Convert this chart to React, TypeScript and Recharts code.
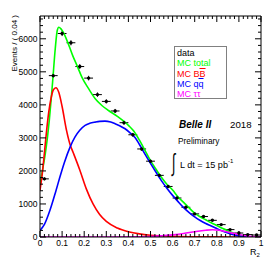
import {
  ComposedChart,
  ErrorBar,
  Legend,
  Line,
  Scatter,
  XAxis,
  YAxis,
} from 'recharts';

// data points, bins of width 0.04
const DATA_R = [
  0.02, 0.06, 0.1, 0.14, 0.18, 0.22, 0.26, 0.3, 0.34, 0.38, 0.42, 0.46, 0.5, 0.54, 0.58, 0.62,
  0.66, 0.7, 0.74, 0.78, 0.82, 0.86, 0.9, 0.94, 0.98,
];
const DATA_EVENTS = [
  1760, 4885, 6160, 5880, 5160, 4810, 4310, 4105, 3815, 3460, 3095, 2665, 2295, 1866, 1530, 1180,
  900, 700, 620, 505, 375, 224, 121, 72, 60,
];
const DATA_ERR = [
  42, 70, 78, 77, 72, 69, 66, 64, 62, 59, 56, 52, 48, 43, 39, 34, 30, 26, 25, 22, 19, 15, 11, 8, 8,
];
const BIN_HALF = 0.02;

// MC total
const TOTAL_R = [
  0, 0.012, 0.024, 0.042, 0.057, 0.069, 0.078, 0.085, 0.095, 0.105, 0.125, 0.148, 0.17, 0.19, 0.22,
  0.25, 0.28, 0.31, 0.35, 0.4, 0.425, 0.45, 0.475, 0.5, 0.525, 0.55, 0.575, 0.6, 0.625, 0.65, 0.675,
  0.7, 0.725, 0.75, 0.775, 0.8, 0.825, 0.85, 0.875, 0.9, 0.925, 0.95, 1,
];
const TOTAL_V = [
  1610, 2050, 2520, 3530, 4690, 5700, 6250, 6350, 6300, 6200, 5900, 5490, 5150, 4830, 4490, 4185,
  3980, 3830, 3650, 3380, 3200, 2930, 2620, 2310, 2050, 1800, 1590, 1420, 1210, 1050, 880, 720, 610,
  520, 430, 350, 265, 190, 121, 60, 18, 4, 0,
];

// MC BB
const BB_R = [
  0, 0.01, 0.02, 0.03, 0.04, 0.05, 0.06, 0.072, 0.085, 0.1, 0.12, 0.136, 0.15, 0.18, 0.21, 0.24, 0.27,
  0.3, 0.35, 0.4, 0.45, 0.5, 0.6, 0.7, 0.8, 0.9, 1,
];
const BB_V = [
  1410, 1900, 2550, 3226, 3800, 4200, 4450, 4520, 4380, 3950, 3226, 2800, 2560, 2030, 1450, 1000, 680,
  470, 270, 160, 95, 55, 20, 8, 3, 1, 0,
];

// MC qq
const QQ_R = [
  0, 0.02, 0.045, 0.07, 0.09, 0.11, 0.136, 0.158, 0.18, 0.204, 0.225, 0.25, 0.27, 0.294, 0.32, 0.34,
  0.36, 0.385, 0.405, 0.43, 0.45, 0.475, 0.5, 0.525, 0.55, 0.575, 0.6, 0.625, 0.65, 0.675, 0.7, 0.725,
  0.75, 0.775, 0.8, 0.825, 0.85, 0.875, 0.9, 0.925, 0.95, 1,
];
const QQ_V = [
  200, 380, 807, 1350, 1815, 2250, 2722, 3024, 3230, 3378, 3440, 3478, 3500, 3508, 3480, 3428, 3370,
  3277, 3170, 3010, 2800, 2510, 2230, 1960, 1700, 1470, 1260, 1070, 890, 740, 610, 500, 410, 335, 255,
  180, 118, 68, 30, 10, 2, 0,
];

// MC tautau
const TT_R = [0, 0.3, 0.45, 0.5, 0.55, 0.6, 0.65, 0.7, 0.75, 0.78, 0.81, 0.85, 0.9, 0.95, 1];
const TT_V = [0, 0, 5, 15, 35, 65, 105, 160, 205, 220, 205, 150, 75, 20, 0];

const X_MAJOR = [0, 0.1, 0.2, 0.3, 0.4, 0.5, 0.6, 0.7, 0.8, 0.9, 1];
const Y_MAJOR = [0, 1000, 2000, 3000, 4000, 5000, 6000];
const X_MINOR_STEP = 0.02;
const Y_MINOR_STEP = 200;
const Y_MAX = 6690;

const FONT = '"Liberation Sans", Arial, sans-serif';
const W = 276;
const H = 276;

const toPoints = (xs: number[], ys: number[]) => xs.map((r, i) => ({ r, v: ys[i] }));

const dataPoints = DATA_R.map((r, i) => ({
  r,
  v: DATA_EVENTS[i],
  ex: BIN_HALF,
  ey: DATA_ERR[i],
}));

const range = (max: number, step: number) =>
  Array.from({ length: Math.round(max / step) + 1 }, (_, i) => +(i * step).toFixed(4));

const xTicks = range(1, X_MINOR_STEP);
const yTicks = range(6600, Y_MINOR_STEP);

const isMajor = (v: number, majors: number[]) => majors.some((m) => Math.abs(m - v) < 1e-6);

const MAJOR_LEN = 6;
const MINOR_LEN = 3;

// ticks point into the frame, ROOT style
const BottomTick = (props: any) => {
  const { x, y, payload } = props;
  const major = isMajor(payload.value, X_MAJOR);
  return (
    <g>
      <line x1={x} x2={x} y1={y} y2={y - (major ? MAJOR_LEN : MINOR_LEN)} stroke="#000" />
      {major && (
        <text x={x} y={y + 8.5} textAnchor="middle" fontSize={8.5} fontFamily={FONT} fill="#000">
          {String(payload.value)}
        </text>
      )}
    </g>
  );
};

const TopTick = (props: any) => {
  const { x, y, payload } = props;
  const major = isMajor(payload.value, X_MAJOR);
  return <line x1={x} x2={x} y1={y} y2={y + (major ? MAJOR_LEN : MINOR_LEN)} stroke="#000" />;
};

const LeftTick = (props: any) => {
  const { x, y, payload } = props;
  const major = isMajor(payload.value, Y_MAJOR);
  return (
    <g>
      <line x1={x} x2={x + (major ? MAJOR_LEN : MINOR_LEN)} y1={y} y2={y} stroke="#000" />
      {major && (
        <text
          x={x - 2.5}
          y={y + 3}
          textAnchor="end"
          fontSize={8.5}
          fontFamily={FONT}
          fill="#000"
        >
          {String(payload.value)}
        </text>
      )}
    </g>
  );
};

const RightTick = (props: any) => {
  const { x, y, payload } = props;
  const major = isMajor(payload.value, Y_MAJOR);
  return <line x1={x} x2={x - (major ? MAJOR_LEN : MINOR_LEN)} y1={y} y2={y} stroke="#000" />;
};

const LEGEND_ITEMS = [
  { label: 'data', color: '#000000', bar: '' },
  { label: 'MC total', color: '#00ff00', bar: '' },
  { label: 'MC B', color: '#ff0000', bar: 'B' },
  { label: 'MC q', color: '#0000ff', bar: 'q' },
  { label: 'MC ττ', color: '#ff00ff', bar: '' },
];

const LegendBox = () => (
  <div
    style={{
      border: '1px solid #808080',
      background: '#fff',
      width: 53,
      height: 53,
      padding: '1px 0 0 2px',
      boxSizing: 'border-box',
      fontFamily: FONT,
      fontSize: 9,
      lineHeight: '10.3px',
    }}
  >
    {LEGEND_ITEMS.map((it) => (
      <div key={it.label} style={{ color: it.color, whiteSpace: 'nowrap' }}>
        {it.label}
        {it.bar && <span style={{ textDecoration: 'overline' }}>{it.bar}</span>}
      </div>
    ))}
  </div>
);

const Dot = (props: any) => <circle cx={props.cx} cy={props.cy} r={1.7} fill="#000" />;

export default function App() {
  return (
    <div
      style={{
        position: 'absolute',
        left: 0,
        top: 0,
        width: W,
        height: H,
        background: '#fff',
      }}
    >
      <ComposedChart
        width={W}
        height={H}
        margin={{ top: 15, right: 14, bottom: 38, left: 39 }}
      >
        <XAxis
          xAxisId="x"
          dataKey="r"
          type="number"
          domain={[0, 1]}
          allowDataOverflow
          ticks={xTicks}
          interval={0}
          height={1}
          tickSize={0}
          tickMargin={0}
          tickLine={false}
          axisLine={{ stroke: '#000' }}
          tick={BottomTick}
        />
        <XAxis
          xAxisId="xt"
          orientation="top"
          dataKey="r"
          type="number"
          domain={[0, 1]}
          allowDataOverflow
          ticks={xTicks}
          interval={0}
          height={1}
          tickSize={0}
          tickMargin={0}
          tickLine={false}
          axisLine={{ stroke: '#000' }}
          tick={TopTick}
        />
        <YAxis
          yAxisId="y"
          type="number"
          domain={[0, Y_MAX]}
          allowDataOverflow
          ticks={yTicks}
          interval={0}
          width={1}
          tickSize={0}
          tickMargin={0}
          tickLine={false}
          axisLine={{ stroke: '#000' }}
          tick={LeftTick}
        />
        <YAxis
          yAxisId="yr"
          orientation="right"
          type="number"
          domain={[0, Y_MAX]}
          allowDataOverflow
          ticks={yTicks}
          interval={0}
          width={1}
          tickSize={0}
          tickMargin={0}
          tickLine={false}
          axisLine={{ stroke: '#000' }}
          tick={RightTick}
        />
        <Scatter
          xAxisId="x"
          yAxisId="y"
          name="data"
          data={dataPoints}
          dataKey="v"
          shape={Dot}
          isAnimationActive={false}
        >
          <ErrorBar dataKey="ex" direction="x" width={0} stroke="#000" strokeWidth={1} />
          <ErrorBar dataKey="ey" direction="y" width={0} stroke="#000" strokeWidth={1} />
        </Scatter>
        <Line
          xAxisId="x"
          yAxisId="y"
          data={toPoints(TOTAL_R, TOTAL_V)}
          dataKey="v"
          type="monotone"
          stroke="#00ff00"
          strokeWidth={1.6}
          dot={false}
          isAnimationActive={false}
        />
        <Line
          xAxisId="x"
          yAxisId="y"
          data={toPoints(BB_R, BB_V)}
          dataKey="v"
          type="monotone"
          stroke="#ff0000"
          strokeWidth={1.6}
          dot={false}
          isAnimationActive={false}
        />
        <Line
          xAxisId="x"
          yAxisId="y"
          data={toPoints(QQ_R, QQ_V)}
          dataKey="v"
          type="monotone"
          stroke="#0000ff"
          strokeWidth={1.6}
          dot={false}
          isAnimationActive={false}
        />
        <Line
          xAxisId="xt"
          yAxisId="yr"
          data={toPoints(TT_R, TT_V)}
          dataKey="v"
          type="monotone"
          stroke="#ff00ff"
          strokeWidth={1.6}
          dot={false}
          isAnimationActive={false}
        />
        <Legend
          layout="vertical"
          align="center"
          verticalAlign="middle"
          wrapperStyle={{ left: 174, top: 46, width: 53, height: 53 }}
          content={() => <LegendBox />}
        />
      </ComposedChart>
      <svg
        width={W}
        height={H}
        style={{ position: 'absolute', left: 0, top: 0, pointerEvents: 'none' }}
        fontFamily={FONT}
      >
        <text transform="translate(17,15) rotate(-90)" textAnchor="end" fontSize={8}>
          Events / ( 0.04 )
        </text>
        <text x={250} y={255} fontSize={9}>
          R
          <tspan fontSize={6} dy={2}>
            2
          </tspan>
        </text>
        <text x={179} y={128} fontSize={10} fontWeight="bold" fontStyle="italic">
          Belle II
        </text>
        <text x={230} y={128} fontSize={9.7}>
          2018
        </text>
        <text x={178} y={144} fontSize={8.3}>
          Preliminary
        </text>
        <text transform="translate(172,171) scale(0.75,1.45)" fontSize={17}>
          ∫
        </text>
        <text x={180} y={168} fontSize={9.1}>
          L dt = 15 pb
          <tspan fontSize={6} dy={-5}>
            -1
          </tspan>
        </text>
      </svg>
    </div>
  );
}
